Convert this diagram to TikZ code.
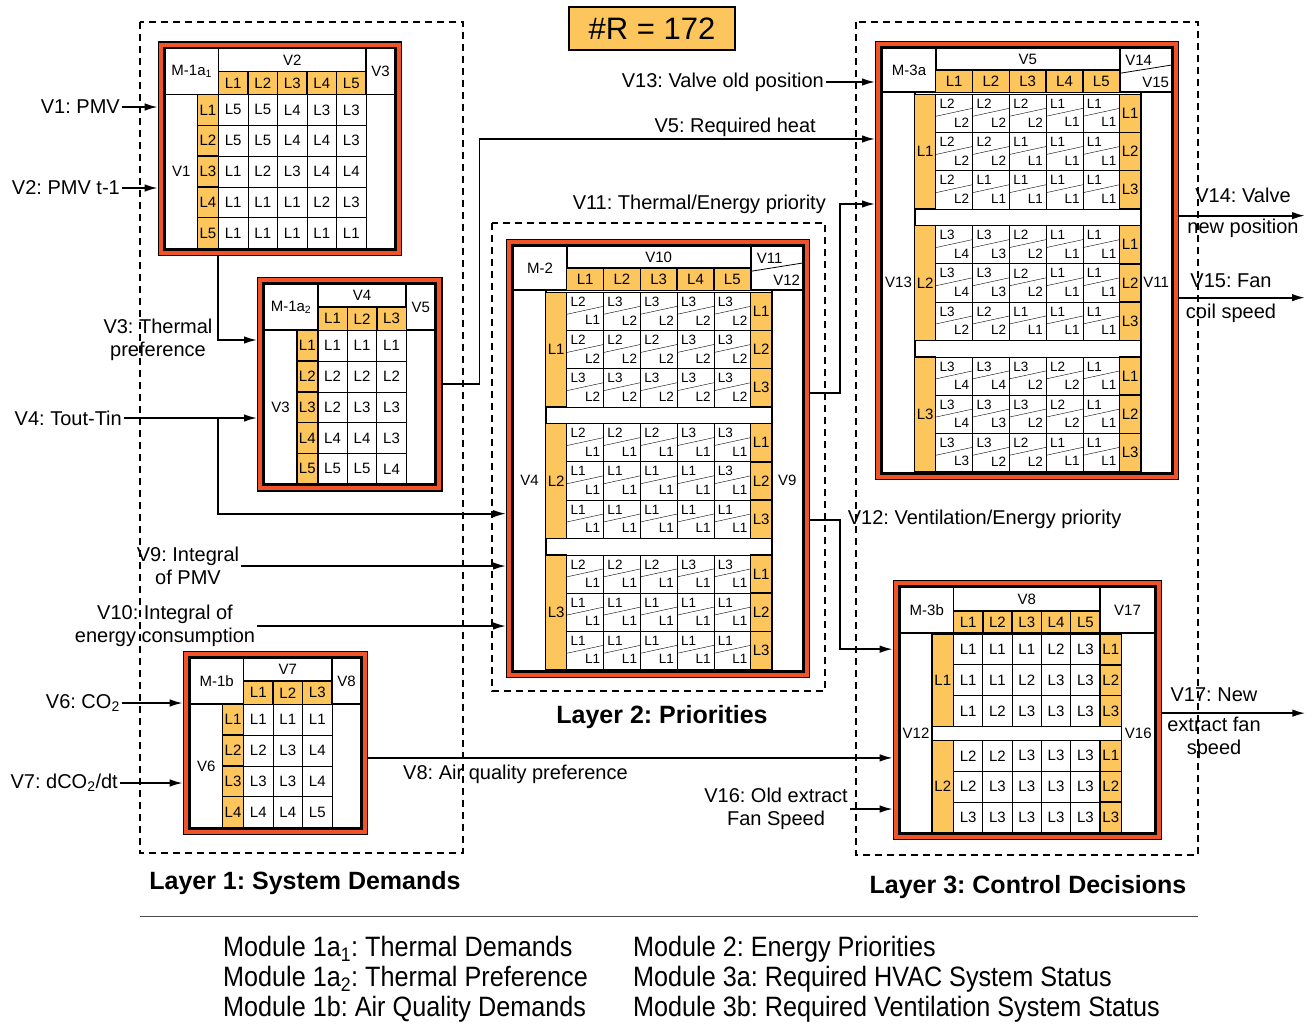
\documentclass[tikz,border=0pt]{standalone}
\usepackage{fontspec}
\setmainfont{Liberation Sans}
\newfontfamily\legendfont[FakeStretch=0.9]{Liberation Sans}
\usetikzlibrary{arrows.meta}
\definecolor{modred}{RGB}{242, 82, 40}
\definecolor{modorange}{RGB}{252, 198, 92}
\frenchspacing

\begin{document}
\begin{tikzpicture}[x=1pt, y=-1pt,
    arrow/.style={-{Latex[length=13pt,width=7.5pt]}, line width=1.7pt},
    lbl/.style={font=\fontsize{20}{22.5}\selectfont, inner sep=2pt, align=center},
    cell/.style={font=\fontsize{15}{15}\selectfont, inner sep=0pt},
    pairtxt/.style={font=\fontsize{13.5}{13.5}\selectfont, inner sep=0pt},
    grid/.style={line width=0.8pt},
    orangecell/.style={fill=modorange, draw, line width=1.4pt},
    border/.style={line width=1.8pt},
    modframe/.style={draw, line width=1.3pt, double=modred, double distance=4pt,
        inner sep=0pt, outer sep=3.3pt, anchor=north west},
    layerbox/.style={line width=1.5pt, dash pattern=on 7pt off 5pt},
    layertitle/.style={font=\fontsize{25}{27}\selectfont\bfseries},
    titlebox/.style={draw, line width=1.5pt, fill=modorange, font=\fontsize{31}{31}\selectfont,
        minimum width=166pt, minimum height=43pt},
    legend/.style={font=\legendfont\fontsize{28}{30}\selectfont, align=left, inner sep=2pt}
]
\useasboundingbox (0,0) rectangle (1312,1023);

% === Macro: modulo simple (M-1a1, M-1a2, M-1b) ===
% #1=nodo, #2=x, #3=y (esquina sup. izq. de la tabla), #4=titulo,
% #5=var arriba, #6=var izquierda, #7=var derecha, #8=filas de la tabla
\newcommand{\simplemod}[8]{%
    \foreach \fila [count=\ri] in {#8} {\xdef\nfil{\ri}%
        \foreach \val [count=\ci] in \fila {\xdef\ncol{\ci}}}%
    \pgfmathsetmacro{\xA}{#2+32.5}%
    \pgfmathsetmacro{\xB}{#2+53.5}%
    \pgfmathsetmacro{\xC}{\xB+29.5*\ncol}%
    \pgfmathsetmacro{\xD}{\xC+29}%
    \pgfmathsetmacro{\yA}{#3+23}%
    \pgfmathsetmacro{\yB}{#3+46}%
    \pgfmathsetmacro{\yC}{\yB+30.8*\nfil}%
    % Cabecera
    \draw[border] (#2,#3) rectangle (\xB,\yB) node[midway, cell] {#4};
    \draw[border] (\xB,#3) rectangle (\xC,\yA) node[midway, cell] {#5};
    \draw[border] (\xC,#3) rectangle (\xD,\yB) node[midway, cell] {#7};
    \foreach \ci in {1,...,\ncol}
        \draw[orangecell] ({\xB+29.5*(\ci-1)},\yA) rectangle ++(29.5,23) node[midway, cell] {L\ci};
    % Cuerpo
    \draw[border] (#2,\yB) rectangle (\xA,\yC) node[midway, cell] {#6};
    \foreach \fila [count=\ri] in {#8} {
        \draw[orangecell] (\xA,{\yB+30.8*(\ri-1)}) rectangle ++(21,30.8) node[midway, cell] {L\ri};
        \foreach \val [count=\ci] in \fila
            \draw[grid] ({\xB+29.5*(\ci-1)},{\yB+30.8*(\ri-1)}) rectangle ++(29.5,30.8) node[midway, cell] {\val};
    }
    \draw[border] (#2,#3) rectangle (\xD,\yC);
    % Marco rojo
    \pgfmathsetmacro{\wF}{\xD-#2+8}%
    \pgfmathsetmacro{\hF}{\yC-#3+8}%
    \node[modframe, minimum width=\wF pt, minimum height=\hF pt] (#1) at (#2-7.3,#3-7.3) {};
}

% === Macro: modulo con celdas dobles (M-2, M-3a) ===
% #1=nodo, #2=x, #3=y, #4=titulo, #5=var arriba, #6=esquina "arriba/abajo",
% #7=var izquierda, #8=var derecha, #9=grupos de filas
\newcommand{\pairmod}[9]{%
    \pgfmathsetmacro{\xA}{#2+32.4}%
    \pgfmathsetmacro{\xB}{#2+53.4}%
    \pgfmathsetmacro{\xC}{\xB+184}%
    \pgfmathsetmacro{\xD}{\xC+21}%
    \pgfmathsetmacro{\xE}{\xC+52}%
    \pgfmathsetmacro{\yA}{#3+22}%
    \pgfmathsetmacro{\yB}{#3+44}%
    \pgfmathsetmacro{\yC}{\yB+380.7}%
    % Cabecera
    \draw[border] (#2,#3) rectangle (\xB,\yB) node[midway, cell] {#4};
    \draw[border] (\xB,#3) rectangle (\xC,\yA) node[midway, cell] {#5};
    \foreach \ci in {1,...,5}
        \draw[orangecell] ({\xB+36.8*(\ci-1)},\yA) rectangle ++(36.8,22) node[midway, cell] {L\ci};
    \draw[border] (\xC,#3) rectangle (\xE,\yB);
    \draw[grid] (\xC,\yA+3) -- (\xE,\yA-5.3);
    \foreach \ct/\cb in {#6} {
        \node[cell] at (\xC+19,#3+11.7) {\ct};
        \node[cell] at (\xE-16,\yB-9.6) {\cb};
    }
    % Cuerpo
    \draw[border] (#2,\yB) rectangle (\xA,\yC) node[midway, cell] {#7};
    \draw[border] (\xD,\yB) rectangle (\xE,\yC) node[midway, cell] {#8};
    \foreach \grupo [count=\gi] in {#9} {
        \pgfmathsetmacro{\gy}{\yB+2+131.3*(\gi-1)}
        \draw[orangecell] (\xA,\gy) rectangle ++(21,114.6) node[midway, cell] {L\gi};
        \foreach \fila [count=\ri] in \grupo {
            \pgfmathsetmacro{\ry}{\gy+38.2*(\ri-1)}
            \draw[orangecell] (\xC,\ry) rectangle ++(21,38.2) node[midway, cell] {L\ri};
            \foreach \hi/\lo [count=\ci] in \fila {
                \pgfmathsetmacro{\cx}{\xB+36.8*(\ci-1)}
                \draw[grid] (\cx,\ry) rectangle ++(36.8,38.2);
                \draw[thin] (\cx,\ry+22) -- (\cx+36.8,\ry+14);
                \node[pairtxt] at (\cx+11.5,\ry+9.5) {\hi};
                \node[pairtxt] at (\cx+26,\ry+28) {\lo};
            }
        }
    }
    \draw[border] (#2,#3) rectangle (\xE,\yC);
    % Marco rojo
    \pgfmathsetmacro{\wF}{\xE-#2+8}%
    \pgfmathsetmacro{\hF}{\yC-#3+8}%
    \node[modframe, minimum width=\wF pt, minimum height=\hF pt] (#1) at (#2-7.3,#3-7.3) {};
}

% === Capas (recuadros discontinuos) ===
\draw[layerbox] (140,22) rectangle (463,853);
\draw[layerbox] (492,223) rectangle (825,691);
\draw[layerbox] (856,22) rectangle (1198,855);
\node[layertitle] (l1) at (305,883) {Layer 1: System Demands};
\node[layertitle] (l2) at (662,717) {Layer 2: Priorities};
\node[layertitle] (l3) at (1028,887) {Layer 3: Control Decisions};

\node[titlebox] (nr) at (652,28.5) {\#R = 172};

% === Capa 1 ===
\simplemod{m1a1}{165}{48.5}{M-1a\textsubscript{1}}{V2}{V1}{V3}
    {{L5,L5,L4,L3,L3},{L5,L5,L4,L4,L3},{L1,L2,L3,L4,L4},{L1,L1,L1,L2,L3},{L1,L1,L1,L1,L1}}
\simplemod{m1a2}{264.3}{284.3}{M-1a\textsubscript{2}}{V4}{V3}{V5}
    {{L1,L1,L1},{L2,L2,L2},{L2,L3,L3},{L4,L4,L3},{L5,L5,L4}}
\simplemod{m1b}{190}{658.3}{M-1b}{V7}{V6}{V8}
    {{L1,L1,L1},{L2,L3,L4},{L3,L3,L4},{L4,L4,L5}}

% === Capa 2 ===
\pairmod{m2}{513.3}{246.3}{M-2}{V10}{V11/V12}{V4}{V9}
    {{{L2/L1,L3/L2,L3/L2,L3/L2,L3/L2},{L2/L2,L2/L2,L2/L2,L3/L2,L3/L2},{L3/L2,L3/L2,L3/L2,L3/L2,L3/L2}},
     {{L2/L1,L2/L1,L2/L1,L3/L1,L3/L1},{L1/L1,L1/L1,L1/L1,L1/L1,L3/L1},{L1/L1,L1/L1,L1/L1,L1/L1,L1/L1}},
     {{L2/L1,L2/L1,L2/L1,L3/L1,L3/L1},{L1/L1,L1/L1,L1/L1,L1/L1,L1/L1},{L1/L1,L1/L1,L1/L1,L1/L1,L1/L1}}}

% === Capa 3 ===
\pairmod{m3a}{882.3}{48.3}{M-3a}{V5}{V14/V15}{V13}{V11}
    {{{L2/L2,L2/L2,L2/L2,L1/L1,L1/L1},{L2/L2,L2/L2,L1/L1,L1/L1,L1/L1},{L2/L2,L1/L1,L1/L1,L1/L1,L1/L1}},
     {{L3/L4,L3/L3,L2/L2,L1/L1,L1/L1},{L3/L4,L3/L3,L2/L2,L1/L1,L1/L1},{L3/L2,L2/L2,L1/L1,L1/L1,L1/L1}},
     {{L3/L4,L3/L4,L3/L2,L2/L2,L1/L1},{L3/L4,L3/L3,L3/L2,L2/L2,L1/L1},{L3/L3,L3/L2,L2/L2,L1/L1,L1/L1}}}

% M-3b (celdas simples, dos grupos)
\draw[border] (900,587.3) rectangle (953.5,633) node[midway, cell] {M-3b};
\draw[border] (953.5,587.3) rectangle (1100,611.3) node[midway, cell] {V8};
\foreach \ci in {1,...,5}
    \draw[orangecell] ({953.5+29.3*(\ci-1)},611.3) rectangle ++(29.3,21.7) node[midway, cell] {L\ci};
\draw[border] (1100,587.3) rectangle (1155,633) node[midway, cell] {V17};
\draw[border] (900,633) rectangle (932,833) node[midway, cell] {V12};
\draw[border] (1121.5,633) rectangle (1155,833) node[midway, cell] {V16};
\foreach \grupo [count=\gi] in {{{L1,L1,L1,L2,L3},{L1,L1,L2,L3,L3},{L1,L2,L3,L3,L3}},
                                {{L2,L2,L3,L3,L3},{L2,L3,L3,L3,L3},{L3,L3,L3,L3,L3}}} {
    \pgfmathsetmacro{\gy}{634+106.4*(\gi-1)}
    \draw[orangecell] (932,\gy) rectangle ++(21.5,92.4) node[midway, cell] {L\gi};
    \foreach \fila [count=\ri] in \grupo {
        \pgfmathsetmacro{\ry}{\gy+30.8*(\ri-1)}
        \draw[orangecell] (1100,\ry) rectangle ++(21.5,30.8) node[midway, cell] {L\ri};
        \foreach \val [count=\ci] in \fila
            \draw[grid] ({953.5+29.3*(\ci-1)},\ry) rectangle ++(29.3,30.8) node[midway, cell] {\val};
    }
}
\draw[border] (900,587.3) rectangle (1155,833);
\node[modframe, minimum width=263pt, minimum height=253.7pt] (m3b) at (892.7,580) {};

% === Entradas ===
\node[lbl, anchor=east] (v1) at (122,107) {V1: PMV};
\node[lbl, anchor=east] (v2) at (122,188) {V2: PMV t-1};
\node[lbl] (v3) at (158,340) {V3: Thermal\\preference};
\node[lbl, anchor=east] (v4) at (124,418) {V4: Tout-Tin};
\node[lbl, anchor=east] (v6) at (122,703) {V6: CO\textsubscript{2}};
\node[lbl, anchor=east] (v7) at (120,783) {V7: dCO\textsubscript{2}/dt};
\node[lbl] (v9) at (188,566) {V9: Integral\\of PMV};
\node[lbl] (v10) at (165,626) {V10: Integral of\\energy consumption};
\node[lbl, anchor=south east] (v5) at (818,139) {V5: Required heat};
\node[lbl, anchor=east] (v13) at (826,82) {V13: Valve old position};
\node[lbl, anchor=east] (v11) at (828,204) {V11: Thermal/Energy priority};
\node[lbl, anchor=north west] (v8) at (401,763) {V8: Air quality preference};
\node[lbl] (v16) at (776,809) {V16: Old extract\\Fan Speed};

\coordinate (split) at ([xshift=60.5pt]m1a1.south west);

% === Flechas ===
\draw[arrow] (v1) -- (v1 -| m1a1.west);
\draw[arrow] (v2) -- (v2 -| m1a1.west);
\draw[arrow] (split) |- (v3 -| m1a2.west);
\draw[arrow] (v4) -- (v4 -| m1a2.west);
\draw[arrow] (v4 -| split) |- ([yshift=-55pt]m2.west);
\draw[arrow] (v9) -- (v9 -| m2.west);
\draw[arrow] (v10) -- (v10 -| m2.west);
\draw[arrow] (v6) -- (v6 -| m1b.west);
\draw[arrow] (v7) -- (v7 -| m1b.west);
\draw[arrow] (m1a2.east) -- ++(37,0) |- (v5.south -| m3a.west);
\draw[arrow] ([yshift=-15pt]m1b.east) coordinate (v8a) -- (v8a -| m3b.west);
\draw[arrow] (v13) -- (v13 -| m3a.west);
\draw[arrow] ([yshift=66pt]m2.east) -- ++(30,0) |- (v11 -| m3a.west);
\draw[arrow] ([yshift=-61pt]m2.east) -- ++(30,0)
    node[lbl, anchor=west, xshift=5pt] (v12) {V12: Ventilation/Energy priority}
    |- ([yshift=61pt]m3b.west);
\draw[arrow] (v16) -- (v16 -| m3b.west);

% === Salidas ===
\draw[arrow] ([yshift=45pt]m3a.east) -- ++(126,0) coordinate (out14);
\draw[arrow] ([yshift=-37pt]m3a.east) -- ++(126,0) coordinate (out15);
\draw[arrow] ([yshift=-3pt]m3b.east) -- ++(143,0) coordinate (out17);
\node[lbl] (v14) at (1243,213) {V14: Valve\\[8pt]new position};
\node[lbl] (v15) at (1231,298) {V15: Fan\\[8pt]coil speed};
\node[lbl] (v17) at (1214,723) {V17: New\\[8pt]extract fan\\speed};

% === Leyenda ===
\draw[line width=0.8pt, black!70] (140,916) -- (1198,916);
\node[legend, anchor=west] (leg1) at (221,979)
    {Module 1a\textsubscript{1}: Thermal Demands\\Module 1a\textsubscript{2}: Thermal Preference\\Module 1b: Air Quality Demands};
\node[legend, anchor=west] (leg2) at (631,979)
    {Module 2: Energy Priorities\\Module 3a: Required HVAC System Status\\Module 3b: Required Ventilation System Status};

\end{tikzpicture}
\end{document}
